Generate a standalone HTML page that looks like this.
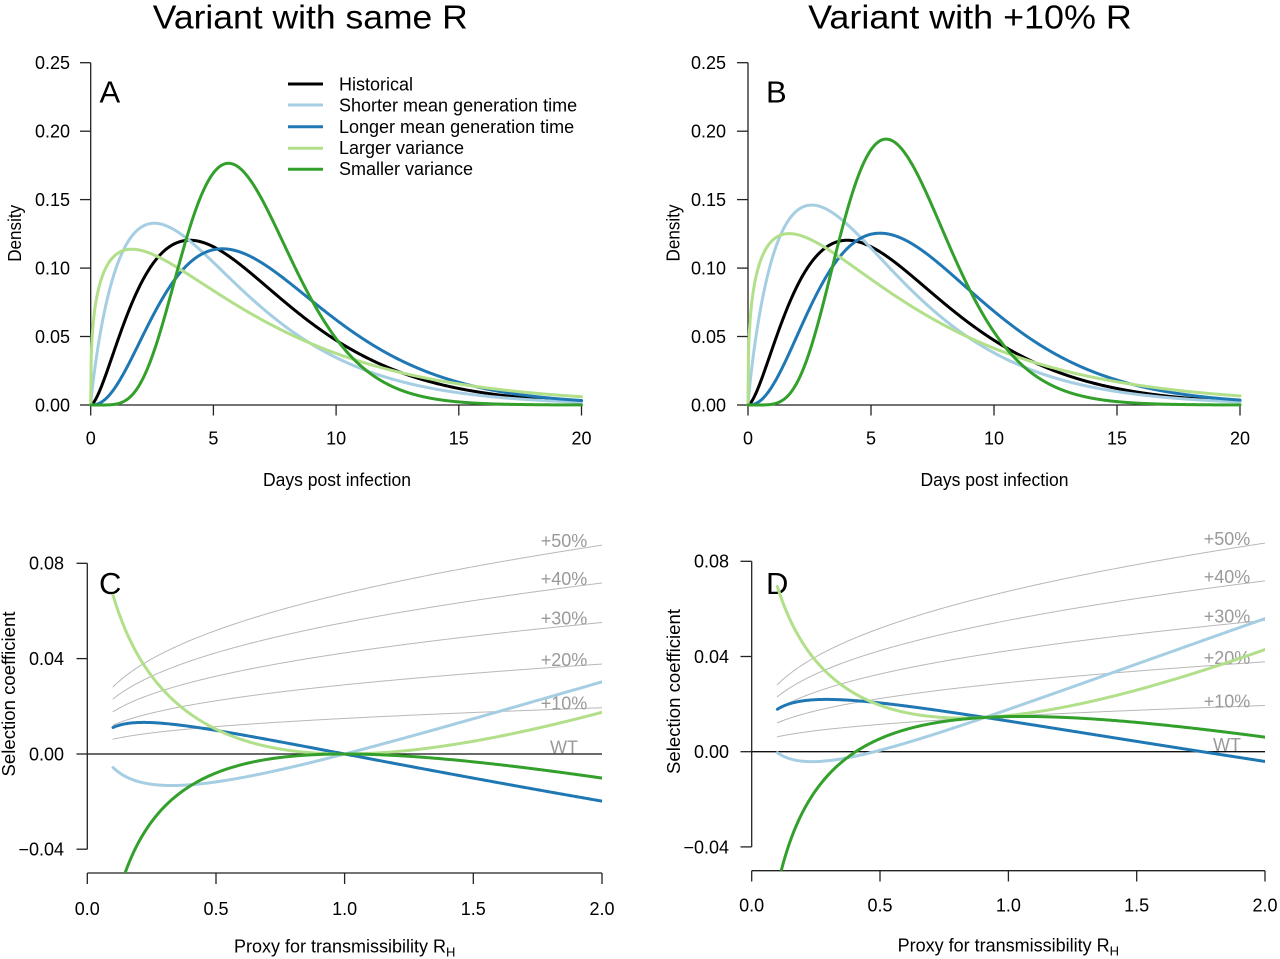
<!DOCTYPE html>
<html>
<head>
<meta charset="utf-8">
<style>
  html,body{margin:0;padding:0;background:#fff;}
  svg{display:block;}
  text{font-family:"Liberation Sans",Arial,Helvetica,sans-serif;fill:#000;}
  .t{font-size:18px;}
  .g{font-size:18px;}
  .g text{fill:#9a9a9a;}
</style>
</head>
<body>
<svg id="s" width="1280" height="959" viewBox="0 0 1280 959" xmlns="http://www.w3.org/2000/svg">
  <defs>
    <clipPath id="clipC"><rect x="87.3" y="0" width="514.7" height="873"/></clipPath>
    <clipPath id="clipD"><rect x="751.7" y="0" width="513.3" height="870.7"/></clipPath>
  </defs>
  <rect x="0" y="0" width="1280" height="959" fill="#fff"/>

  <!-- Titles -->
  <text x="310.3" y="28.3" font-size="33" text-anchor="middle" textLength="315" lengthAdjust="spacingAndGlyphs">Variant with same R</text>
  <text x="970" y="28.3" font-size="33" text-anchor="middle" textLength="323.7" lengthAdjust="spacingAndGlyphs">Variant with +10% R</text>

  <!-- ================= Panel A ================= -->
  <g stroke="#222" stroke-width="1.3" fill="none">
    <line x1="90.7" y1="62.7" x2="90.7" y2="405"/>
    <line x1="80" y1="405" x2="90.7" y2="405"/>
    <line x1="80" y1="336.5" x2="90.7" y2="336.5"/>
    <line x1="80" y1="268.1" x2="90.7" y2="268.1"/>
    <line x1="80" y1="199.6" x2="90.7" y2="199.6"/>
    <line x1="80" y1="131.2" x2="90.7" y2="131.2"/>
    <line x1="80" y1="62.7" x2="90.7" y2="62.7"/>
    <line x1="90.7" y1="405" x2="581.5" y2="405"/>
    <line x1="90.7" y1="405" x2="90.7" y2="415.5"/>
    <line x1="213.4" y1="405" x2="213.4" y2="415.5"/>
    <line x1="336.1" y1="405" x2="336.1" y2="415.5"/>
    <line x1="458.8" y1="405" x2="458.8" y2="415.5"/>
    <line x1="581.5" y1="405" x2="581.5" y2="415.5"/>
  </g>
  <g class="t" text-anchor="end">
    <text x="70" y="411.4">0.00</text>
    <text x="70" y="342.9">0.05</text>
    <text x="70" y="274.5">0.10</text>
    <text x="70" y="206">0.15</text>
    <text x="70" y="137.6">0.20</text>
    <text x="70" y="69.1">0.25</text>
  </g>
  <g class="t" text-anchor="middle">
    <text x="90.7" y="444.5">0</text>
    <text x="213.4" y="444.5">5</text>
    <text x="336.1" y="444.5">10</text>
    <text x="458.8" y="444.5">15</text>
    <text x="581.5" y="444.5">20</text>
    <text x="337" y="486" textLength="148" lengthAdjust="spacingAndGlyphs">Days post infection</text>
  </g>
  <text class="t" text-anchor="middle" transform="translate(21,233.3) rotate(-90)" textLength="57" lengthAdjust="spacingAndGlyphs">Density</text>
  <text x="99.5" y="102.7" font-size="31">A</text>

  <!-- Legend -->
  <g stroke-width="3" stroke-linecap="butt">
    <line x1="288" y1="84" x2="323" y2="84" stroke="#000"/>
    <line x1="288" y1="105" x2="323" y2="105" stroke="#a6cee3"/>
    <line x1="288" y1="126.7" x2="323" y2="126.7" stroke="#1f78b4"/>
    <line x1="288" y1="148.3" x2="323" y2="148.3" stroke="#b2df8a"/>
    <line x1="288" y1="169.3" x2="323" y2="169.3" stroke="#33a02c"/>
  </g>
  <g class="t">
    <text x="339" y="90.5">Historical</text>
    <text x="339" y="111.5">Shorter mean generation time</text>
    <text x="339" y="133">Longer mean generation time</text>
    <text x="339" y="154">Larger variance</text>
    <text x="339" y="175">Smaller variance</text>
  </g>
  <g id="cA"></g>

  <!-- ================= Panel B ================= -->
  <g stroke="#222" stroke-width="1.3" fill="none">
    <line x1="748" y1="62.7" x2="748" y2="405"/>
    <line x1="737" y1="405" x2="748" y2="405"/>
    <line x1="737" y1="336.5" x2="748" y2="336.5"/>
    <line x1="737" y1="268.1" x2="748" y2="268.1"/>
    <line x1="737" y1="199.6" x2="748" y2="199.6"/>
    <line x1="737" y1="131.2" x2="748" y2="131.2"/>
    <line x1="737" y1="62.7" x2="748" y2="62.7"/>
    <line x1="748" y1="405" x2="1240" y2="405"/>
    <line x1="748" y1="405" x2="748" y2="415.5"/>
    <line x1="871" y1="405" x2="871" y2="415.5"/>
    <line x1="994" y1="405" x2="994" y2="415.5"/>
    <line x1="1117" y1="405" x2="1117" y2="415.5"/>
    <line x1="1240" y1="405" x2="1240" y2="415.5"/>
  </g>
  <g class="t" text-anchor="end">
    <text x="726" y="411.4">0.00</text>
    <text x="726" y="342.9">0.05</text>
    <text x="726" y="274.5">0.10</text>
    <text x="726" y="206">0.15</text>
    <text x="726" y="137.6">0.20</text>
    <text x="726" y="69.1">0.25</text>
  </g>
  <g class="t" text-anchor="middle">
    <text x="748" y="444.5">0</text>
    <text x="871" y="444.5">5</text>
    <text x="994" y="444.5">10</text>
    <text x="1117" y="444.5">15</text>
    <text x="1240" y="444.5">20</text>
    <text x="994.5" y="486" textLength="148" lengthAdjust="spacingAndGlyphs">Days post infection</text>
  </g>
  <text class="t" text-anchor="middle" transform="translate(679.5,233) rotate(-90)" textLength="57" lengthAdjust="spacingAndGlyphs">Density</text>
  <text x="766" y="102.7" font-size="31">B</text>
  <g id="cB"></g>

  <!-- ================= Panel C ================= -->
  <g id="gC"></g>
  <line x1="87.3" y1="754" x2="602" y2="754" stroke="#111" stroke-width="1.3"/>
  <g class="g" text-anchor="middle">
    <text x="564" y="547">+50%</text>
    <text x="564" y="585">+40%</text>
    <text x="564" y="624.5">+30%</text>
    <text x="564" y="666">+20%</text>
    <text x="564" y="709.7">+10%</text>
    <text x="564" y="753.3">WT</text>
  </g>
  <g stroke="#222" stroke-width="1.3" fill="none">
    <line x1="87.3" y1="563.3" x2="87.3" y2="849.2"/>
    <line x1="76.5" y1="563.3" x2="87.3" y2="563.3"/>
    <line x1="76.5" y1="658.6" x2="87.3" y2="658.6"/>
    <line x1="76.5" y1="754" x2="87.3" y2="754"/>
    <line x1="76.5" y1="849.2" x2="87.3" y2="849.2"/>
    <line x1="87.3" y1="873" x2="602" y2="873"/>
    <line x1="87.3" y1="873" x2="87.3" y2="884"/>
    <line x1="216" y1="873" x2="216" y2="884"/>
    <line x1="344.6" y1="873" x2="344.6" y2="884"/>
    <line x1="473.3" y1="873" x2="473.3" y2="884"/>
    <line x1="602" y1="873" x2="602" y2="884"/>
  </g>
  <g class="t" text-anchor="end">
    <text x="64" y="569.7">0.08</text>
    <text x="64" y="665">0.04</text>
    <text x="64" y="760.4">0.00</text>
    <text x="64" y="855.6">−0.04</text>
  </g>
  <g class="t" text-anchor="middle">
    <text x="87.3" y="915">0.0</text>
    <text x="216" y="915">0.5</text>
    <text x="344.6" y="915">1.0</text>
    <text x="473.3" y="915">1.5</text>
    <text x="602" y="915">2.0</text>
    <text x="344.7" y="952.5">Proxy for transmissibility R<tspan font-size="13" dy="4">H</tspan></text>
  </g>
  <text class="t" text-anchor="middle" transform="translate(14.8,694) rotate(-90)" textLength="165" lengthAdjust="spacingAndGlyphs">Selection coefficient</text>
  <text x="99" y="594" font-size="31">C</text>
  <g id="cC"></g>

  <!-- ================= Panel D ================= -->
  <g id="gD"></g>
  <line x1="751.7" y1="751.7" x2="1265" y2="751.7" stroke="#111" stroke-width="1.3"/>
  <g class="g" text-anchor="middle">
    <text x="1227" y="545">+50%</text>
    <text x="1227" y="583">+40%</text>
    <text x="1227" y="622.4">+30%</text>
    <text x="1227" y="663.8">+20%</text>
    <text x="1227" y="707.5">+10%</text>
    <text x="1227" y="751">WT</text>
  </g>
  <g stroke="#222" stroke-width="1.3" fill="none">
    <line x1="751.7" y1="561.3" x2="751.7" y2="846.9"/>
    <line x1="740.5" y1="561.3" x2="751.7" y2="561.3"/>
    <line x1="740.5" y1="656.5" x2="751.7" y2="656.5"/>
    <line x1="740.5" y1="751.7" x2="751.7" y2="751.7"/>
    <line x1="740.5" y1="846.9" x2="751.7" y2="846.9"/>
    <line x1="751.7" y1="870.7" x2="1265" y2="870.7"/>
    <line x1="751.7" y1="870.7" x2="751.7" y2="881.5"/>
    <line x1="880" y1="870.7" x2="880" y2="881.5"/>
    <line x1="1008.4" y1="870.7" x2="1008.4" y2="881.5"/>
    <line x1="1136.7" y1="870.7" x2="1136.7" y2="881.5"/>
    <line x1="1265" y1="870.7" x2="1265" y2="881.5"/>
  </g>
  <g class="t" text-anchor="end">
    <text x="729" y="567.7">0.08</text>
    <text x="729" y="662.9">0.04</text>
    <text x="729" y="758.1">0.00</text>
    <text x="729" y="853.3">−0.04</text>
  </g>
  <g class="t" text-anchor="middle">
    <text x="751.7" y="911.7">0.0</text>
    <text x="880" y="911.7">0.5</text>
    <text x="1008.4" y="911.7">1.0</text>
    <text x="1136.7" y="911.7">1.5</text>
    <text x="1265" y="911.7">2.0</text>
    <text x="1008.3" y="951.5">Proxy for transmissibility R<tspan font-size="13" dy="4">H</tspan></text>
  </g>
  <text class="t" text-anchor="middle" transform="translate(679.8,691.5) rotate(-90)" textLength="165" lengthAdjust="spacingAndGlyphs">Selection coefficient</text>
  <text x="766" y="594" font-size="31">D</text>
  <g id="cD"></g>
</svg>

<script>
(function(){
  var NS="http://www.w3.org/2000/svg";
  function lgamma(x){
    var c=[0.99999999999980993,676.5203681218851,-1259.1392167224028,771.32342877765313,-176.61502916214059,12.507343278686905,-0.13857109526572012,9.9843695780195716e-6,1.5056327351493116e-7];
    if(x<0.5) return Math.log(Math.PI/Math.abs(Math.sin(Math.PI*x)))-lgamma(1-x);
    x-=1; var a=c[0], t=x+7.5;
    for(var i=1;i<9;i++) a+=c[i]/(x+i);
    return 0.5*Math.log(2*Math.PI)+(x+0.5)*Math.log(t)-t+Math.log(a);
  }
  function dg(t,m,sd){
    var a=(m/sd)*(m/sd), b=sd*sd/m;
    if(t<=0) return 0;
    return Math.exp((a-1)*Math.log(t)-t/b-lgamma(a)-a*Math.log(b));
  }
  function rr(R,m,sd){
    var a=(m/sd)*(m/sd), b=sd*sd/m;
    return (Math.pow(R,1/a)-1)/b;
  }
  function addPath(gid,pts,color,w,clip){
    var d="M"+pts.map(function(p){return p[0].toFixed(2)+","+p[1].toFixed(2);}).join("L");
    var e=document.createElementNS(NS,"path");
    e.setAttribute("d",d);
    e.setAttribute("fill","none");
    e.setAttribute("stroke",color);
    e.setAttribute("stroke-width",w);
    e.setAttribute("stroke-linejoin","round");
    e.setAttribute("stroke-linecap","round");
    if(clip) e.setAttribute("clip-path","url(#"+clip+")");
    document.getElementById(gid).appendChild(e);
  }
  var H=[6.5,4];
  var V=[[5.5,4,"#a6cee3"],[7.5,4,"#1f78b4"],[6.5,5.6,"#b2df8a"],[6.5,2.4,"#33a02c"]];

  function densPanel(gid,x0,sx,mult){
    var yf=function(d){return 405-d*1369.2;};
    var tt=[];
    for(var t=0;t<=20.0001;t+=0.02) tt.push(t);
    var pts=tt.map(function(t){return [x0+t*sx, yf(dg(t,H[0],H[1]))];});
    addPath(gid,pts,"#000",3);
    V.forEach(function(v){
      var p=tt.map(function(t){return [x0+t*sx, yf(mult*dg(t,v[0],v[1]))];});
      addPath(gid,p,v[2],3);
    });
  }
  densPanel("cA",90.7,24.54,1.0);
  densPanel("cB",748,24.6,1.1);

  function selPanel(gid,ggid,x0,sx,y0,sy,kv,clip){
    var RR=[];
    for(var R=0.1;R<=2.00001;R+=0.005) RR.push(R);
    [1.1,1.2,1.3,1.4,1.5].forEach(function(k){
      var p=RR.map(function(R){return [x0+R*sx, y0-(rr(k*R,H[0],H[1])-rr(R,H[0],H[1]))*sy];});
      addPath(ggid,p,"#b8b8b8",1,clip);
    });
    V.forEach(function(v){
      var p=RR.map(function(R){return [x0+R*sx, y0-(rr(kv*R,v[0],v[1])-rr(R,H[0],H[1]))*sy];});
      addPath(gid,p,v[2],3,clip);
    });
  }
  selPanel("cC","gC",87.3,257.35,754,2382.5,1.0,"clipC");
  selPanel("cD","gD",751.7,256.65,751.7,2380,1.1,"clipD");
})();
</script>
</body>
</html>
